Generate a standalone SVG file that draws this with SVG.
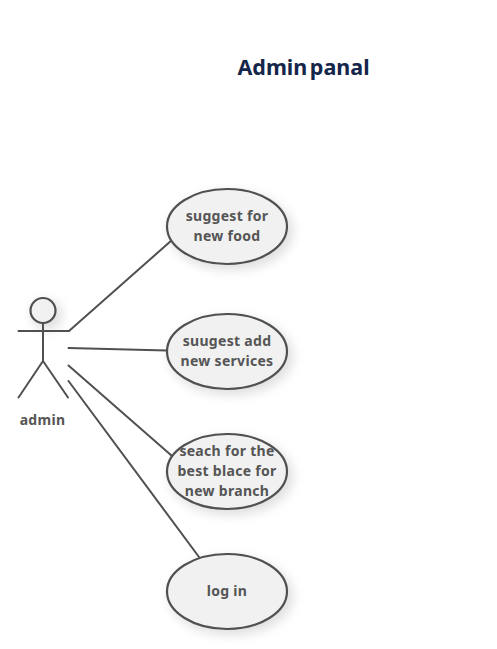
<svg xmlns="http://www.w3.org/2000/svg" width="497" height="649" viewBox="0 0 497 649">
<defs><filter id="sh" x="-40%" y="-40%" width="180%" height="180%"><feGaussianBlur stdDeviation="6"/></filter></defs>
<style>
.u{fill:#f1f1f1;stroke:#505050;stroke-width:2.200}
.s{fill:#000;opacity:.13;filter:url(#sh)}
.t{font-family:"Noto Sans","Open Sans",sans-serif;font-size:14px;font-weight:700;fill:#555;text-anchor:middle;letter-spacing:.3px}
.l{fill:none;stroke:#505050;stroke-width:2;stroke-linecap:round}
</style>
<rect width="497" height="649" fill="#fff"/>
<text x="303.500" y="75" font-family="Noto Sans,Open Sans,sans-serif" font-size="21.500" font-weight="700" fill="#14264a" text-anchor="middle" word-spacing="-3">Admin panal</text>
<g id="connectors" class="l"><path d="M69 331L172 240M68.500 348L167 350.500M68.500 365.500L172 456M68.500 381L199 557"/></g>
<g id="uc1"><ellipse class="s" cx="231" cy="231" rx="62" ry="39"/><ellipse class="u" cx="227" cy="226.500" rx="60" ry="37.500"/><text class="t" x="227" y="221">suggest for</text><text class="t" x="227" y="241">new food</text></g>
<g id="uc2"><ellipse class="s" cx="231" cy="356" rx="62" ry="39"/><ellipse class="u" cx="227" cy="351.500" rx="60" ry="37.500"/><text class="t" x="227" y="346">suugest add</text><text class="t" x="227" y="366">new services</text></g>
<g id="uc3"><ellipse class="s" cx="231" cy="476" rx="62" ry="39"/><ellipse class="u" cx="227" cy="471.500" rx="60" ry="37.500"/><text class="t" x="227" y="456">seach for the</text><text class="t" x="227" y="476">best blace for</text><text class="t" x="227" y="496">new branch</text></g>
<g id="uc4"><ellipse class="s" cx="231" cy="596" rx="62" ry="39"/><ellipse class="u" cx="227" cy="591.500" rx="60" ry="37.500"/><text class="t" x="227" y="596">log in</text></g>
<g id="admin"><circle class="s" cx="47" cy="315" r="15"/><circle class="u" cx="43" cy="310.500" r="12.500"/><path class="l" d="M43 323V361M18.500 331H69M43 361L18.500 397.500M43 361L68 397.500"/><text class="t" x="42.500" y="425">admin</text></g>
</svg>
